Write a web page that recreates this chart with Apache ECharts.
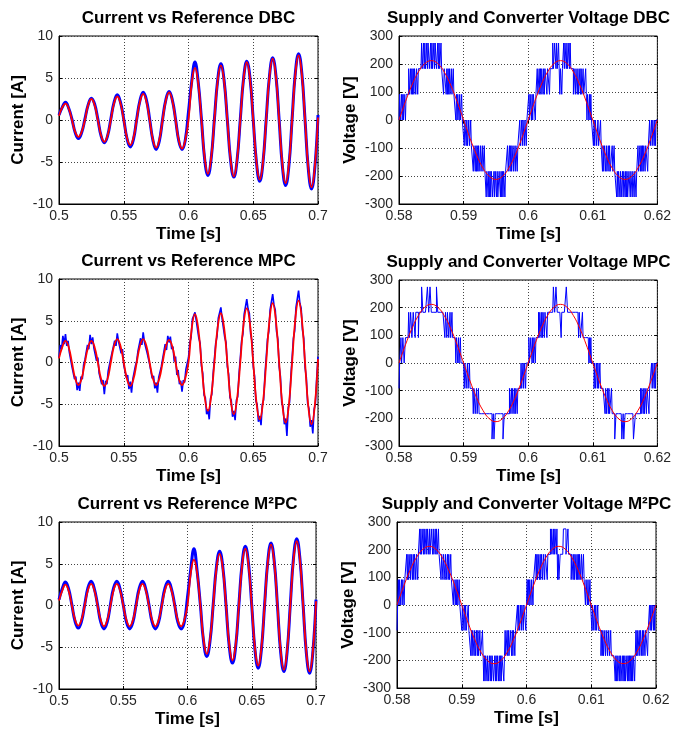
<!DOCTYPE html>
<html>
<head>
<meta charset="utf-8">
<script src="https://cdn.jsdelivr.net/npm/echarts@6/dist/echarts.min.js"></script>
<style>
  html, body { margin: 0; padding: 0; background: #fff; }
  #chart { width: 674px; height: 732px; }
</style>
</head>
<body>
<div id="chart"></div>
<script>
// ---- sampling grids -------------------------------------------------------
const currentStart = 0.5;      // s
const refStep = 0.0025;        // reference / smooth current samples, s
const fineStep = 0.001;        // MPC current samples, s
const voltageStart = 0.58;     // s
const supplyStep = 0.001;      // supply voltage samples, s
const switchStep = 0.0001;     // converter switching period, s

// ---- axis ticks -----------------------------------------------------------
const currentTimeTicks = [0.5, 0.55, 0.6, 0.65, 0.7];
const currentTicks = [-10, -5, 0, 5, 10];
const voltageTimeTicks = [0.58, 0.59, 0.6, 0.61, 0.62];
const voltageTicks = [-300, -200, -100, 0, 100, 200, 300];

// ---- currents [A] ---------------------------------------------------------
const dbcReference = [
  0.5, 1.5, 1.95, 1.38, 0, -1.41, -2.0, -1.41,
  0, 1.77, 2.5, 1.77, 0, -1.84, -2.6, -1.84,
  0, 1.98, 2.8, 1.98, 0, -2.12, -3.0, -2.12,
  0, 2.19, 3.1, 2.19, 0, -2.33, -3.3, -2.33,
  0, 2.33, 3.3, 2.33, 0, -2.4, -3.4, -2.4,
  0, 4.38, 6.2, 4.38, 0, -4.52, -6.4, -4.52,
  0, 4.6, 6.5, 4.6, 0, -4.74, -6.7, -4.74,
  0, 4.88, 6.9, 4.88, 0, -5.02, -7.1, -5.02,
  0, 5.16, 7.3, 5.16, 0, -5.3, -7.5, -5.3,
  0, 5.44, 7.7, 5.44, 0, -5.66, -8.0, -5.66,
  0.3
];
const dbcCurrent = [
  0.6, 1.5, 2.1, 1.4, 0.1, -1.5, -2.2, -1.5,
  0.1, 1.8, 2.6, 1.9, 0.1, -1.9, -2.7, -1.9,
  0.1, 2.1, 3.0, 2.1, 0.1, -2.2, -3.2, -2.3,
  0.1, 2.3, 3.3, 2.4, 0.1, -2.4, -3.5, -2.5,
  0.1, 2.4, 3.4, 2.4, 0.1, -2.5, -3.5, -2.4,
  1.0, 4.6, 6.9, 4.5, 0.1, -4.7, -6.6, -4.6,
  0.1, 4.7, 6.7, 4.7, 0.0, -4.8, -6.8, -4.8,
  0.1, 4.9, 7.0, 5.0, 0.0, -5.1, -7.3, -5.1,
  0.1, 5.2, 7.4, 5.3, 0.0, -5.5, -7.8, -5.5,
  0.1, 5.6, 7.9, 5.6, 0.0, -5.8, -8.2, -5.8,
  0.6
];
const mpcReference = [
  0.5, 1.84, 2.6, 1.84, 0, -1.91, -2.7, -1.91,
  0, 1.84, 2.6, 1.84, 0, -1.98, -2.8, -1.98,
  0, 1.98, 2.8, 1.98, 0, -1.98, -2.8, -1.98,
  0, 1.98, 2.8, 1.98, 0, -1.91, -2.7, -1.91,
  0, 1.91, 2.7, 1.91, 0, -1.91, -2.7, -1.91,
  0, 4.1, 5.8, 4.1, 0, -4.1, -5.8, -4.1,
  0, 4.17, 5.9, 4.17, 0, -4.38, -6.2, -4.38,
  0, 4.6, 6.5, 4.6, 0, -4.81, -6.8, -4.81,
  0, 5.02, 7.1, 5.02, 0, -5.09, -7.2, -5.09,
  0, 5.23, 7.4, 5.23, 0, -5.23, -7.4, -5.23,
  0.4
];
const mpcCurrent = [
  0.6, 2.1, 1.6, 3.2, 2.2, 3.4, 2.0, 2.6, 1.2, 1.3, -0.5, -0.4, -2.0, -1.7, -3.3, -2.4, -3.4, -1.7, -2.0, -0.3,
  0.3, 0.4, 2.1, 1.6, 3.3, 2.2, 3.0, 1.7, 1.9, 0.2, 0.6, -1.3, -1.1, -2.6, -2.1, -3.8, -2.2, -2.6, -1.0, -1.1,
  0.5, 1.2, 1.0, 2.6, 2.0, 3.5, 2.5, 2.7, 1.1, 1.6, -0.3, -0.2, -1.8, -1.5, -3.2, -2.3, -3.6, -2.0, -1.9, -0.4,
  0.2, 1.4, 1.2, 2.9, 2.1, 3.6, 2.4, 2.5, 1.2, 1.4, -0.2, -0.3, -1.9, -1.6, -3.1, -2.4, -3.6, -1.8, -2.0, -0.5,
  0.4, 0.3, 2.2, 1.5, 3.2, 2.4, 3.1, 1.6, 1.9, 0.1, 0.7, -1.5, -0.9, -2.6, -2.2, -3.5, -2.1, -2.4, -0.8, -1.0,
  0.6, 2.4, 3.0, 5.2, 5.1, 6.0, 5.0, 5.2, 2.9, 2.3, -0.4, -1.3, -3.9, -4.2, -6.2, -5.6, -6.8, -4.3, -3.8, -1.4,
  0.4, 2.3, 3.1, 5.3, 5.3, 6.6, 5.2, 5.3, 3.0, 2.4, -0.5, -1.4, -4.2, -4.5, -6.5, -5.8, -6.9, -4.5, -4.1, -1.4,
  0.5, 2.6, 3.4, 5.8, 5.7, 7.6, 6.4, 5.9, 3.4, 2.6, -0.5, -1.6, -4.6, -5.0, -7.1, -6.4, -7.5, -5.0, -4.5, -1.6,
  0.6, 2.8, 3.7, 6.3, 6.3, 8.2, 6.9, 6.3, 3.7, 2.8, -0.5, -1.7, -4.8, -5.3, -7.4, -6.7, -8.8, -5.4, -4.8, -1.7,
  0.5, 2.9, 3.8, 6.6, 6.6, 8.6, 7.1, 6.5, 3.9, 2.9, -0.6, -1.8, -4.9, -5.5, -7.7, -6.9, -8.5, -5.6, -4.9, -1.8,
  0.7
];
const m2pcReference = [
  0.6, 1.77, 2.5, 1.77, 0, -1.7, -2.4, -1.7,
  0, 1.84, 2.6, 1.84, 0, -1.77, -2.5, -1.77,
  0, 1.84, 2.6, 1.84, 0, -1.77, -2.5, -1.77,
  0, 1.84, 2.6, 1.84, 0, -1.77, -2.5, -1.77,
  0, 1.84, 2.6, 1.84, 0, -1.77, -2.5, -1.77,
  0, 3.89, 5.5, 3.89, 0, -4.1, -5.8, -4.1,
  0, 4.38, 6.2, 4.38, 0, -4.67, -6.6, -4.67,
  0, 4.81, 6.8, 4.81, 0, -5.09, -7.2, -5.09,
  0, 5.16, 7.3, 5.16, 0, -5.44, -7.7, -5.44,
  0, 5.44, 7.7, 5.44, 0, -5.59, -7.9, -5.59,
  0.5
];
const m2pcCurrent = [
  0.7, 2.0, 2.8, 2.0, 0.1, -1.9, -2.7, -1.9,
  0.1, 2.1, 2.9, 2.0, 0.1, -2.0, -2.8, -2.0,
  0.1, 2.1, 2.9, 2.0, 0.1, -2.0, -2.8, -2.0,
  0.1, 2.1, 2.9, 2.0, 0.1, -2.0, -2.8, -2.0,
  0.1, 2.1, 2.9, 2.0, 0.1, -2.0, -2.8, -2.0,
  1.0, 4.3, 6.8, 4.1, 0.1, -4.3, -6.1, -4.3,
  0.1, 4.6, 6.5, 4.6, 0.0, -4.9, -6.9, -4.9,
  0.1, 5.0, 7.1, 5.0, 0.0, -5.3, -7.5, -5.3,
  0.1, 5.3, 7.5, 5.3, 0.0, -5.6, -7.9, -5.6,
  0.1, 5.7, 8.0, 5.6, 0.0, -5.7, -8.1, -5.7,
  0.7
];

// ---- voltages [V] ---------------------------------------------------------
const supplyVoltage = [
  0, 65.5, 124.6, 171.5, 201.6, 212, 201.6, 171.5, 124.6, 65.5,
  0, -65.5, -124.6, -171.5, -201.6, -212, -201.6, -171.5, -124.6, -65.5,
  0, 65.5, 124.6, 171.5, 201.6, 212, 201.6, 171.5, 124.6, 65.5,
  0, -65.5, -124.6, -171.5, -201.6, -212, -201.6, -171.5, -124.6, -65.5,
  0
];
// converter output voltage for each level index -3..3
const converterLevels = [-275, -183.3, -91.7, 0, 91.7, 183.3, 275];

// converter level index at every switching period
const dbcLevelIdx = [
  0,1,0,0,1,0,1,0,1,1,0,1,1,1,1,2,1,1,2,1,
  2,1,2,1,2,2,1,2,2,1,2,2,2,2,2,3,2,2,3,2,
  3,2,2,3,2,3,3,2,2,3,2,3,2,2,3,2,3,3,2,2,
  3,2,3,2,2,3,2,2,2,1,2,2,2,1,2,1,2,1,2,1,
  1,2,1,1,2,1,1,1,0,1,0,1,1,0,1,0,0,1,0,0,
  0,-1,0,0,-1,0,-1,-1,0,-1,-1,0,-1,-1,-1,-2,-1,-1,-2,-1,
  -2,-1,-2,-1,-2,-2,-1,-2,-2,-1,-2,-2,-1,-2,-2,-3,-2,-2,-3,-2,
  -3,-2,-3,-2,-2,-3,-3,-2,-3,-2,-2,-3,-2,-3,-3,-2,-2,-3,-2,-3,
  -2,-3,-2,-2,-3,-2,-2,-2,-1,-2,-2,-1,-2,-1,-2,-1,-1,-2,-1,-1,
  -2,-1,-1,-2,-1,-1,-1,0,-1,-1,0,-1,0,0,-1,0,0,-1,0,0,
  0,1,0,1,1,0,1,0,1,1,1,0,1,1,2,1,1,2,1,2,
  1,2,2,1,2,1,2,2,2,1,2,2,2,1,2,2,2,2,3,2,
  2,3,3,2,3,2,2,3,2,1,2,2,1,2,2,3,2,3,3,2,
  3,2,2,3,2,3,2,2,2,2,1,2,2,1,2,2,1,2,1,1,
  2,1,2,1,1,2,1,1,1,2,1,0,1,1,0,1,0,1,0,0,
  0,-1,0,-1,0,0,-1,-1,0,-1,-1,-1,0,-1,-1,-2,-1,-2,-1,-1,
  -2,-1,-2,-2,-1,-2,-1,-2,-2,-2,-1,-2,-2,-1,-2,-2,-2,-3,-2,-3,
  -2,-2,-3,-2,-3,-3,-2,-3,-2,-2,-3,-2,-3,-2,-3,-3,-2,-2,-3,-2,
  -2,-3,-2,-2,-3,-2,-2,-3,-2,-2,-1,-2,-2,-1,-2,-1,-2,-1,-2,-1,
  -1,-2,-1,-1,-1,-2,-1,-1,0,-1,-1,0,-1,0,0,-1,0,-1,0,0,
  0
];
const mpcLevelIdx = [
  -1,
  0,0,1,0,0,1,1,0,0,1,1,1,1,
  1,2,1,1,2,2,1,1,2,2,2,1,2,2,2,2,1,2,2,2,
  2,3,3,2,2,2,2,2,2,2,3,3,2,2,3,3,2,2,2,2,2,2,2,2,3,3,2,2,2,2,2,2,2,
  2,2,2,2,1,2,2,1,2,2,1,1,2,1,1,2,1,1,1,
  1,1,0,1,1,0,1,0,0,1,0,0,0,0,
  0,-1,0,0,-1,-1,0,-1,-1,0,-1,-1,-1,-1,
  -1,-2,-1,-1,-2,-2,-1,-2,-2,-1,-2,-2,-2,-2,-2,-2,-2,-2,-2,-2,
  -2,-2,-2,-2,-2,-2,-2,-2,-2,-2,-3,-3,-2,-3,-3,-2,-2,-2,-2,-2,-2,-2,-2,-2,-2,-2,-2,-3,-3,-2,-2,-2,-2,
  -2,-2,-2,-2,-1,-2,-2,-1,-2,-1,-1,-2,-1,-2,-1,-1,-2,-1,-1,
  -1,-1,-1,0,-1,-1,0,-1,0,0,-1,0,0,0,
  0,1,0,0,1,1,0,1,0,1,1,0,1,1,
  1,1,2,1,2,2,1,2,1,2,2,1,2,2,2,1,2,2,2,2,2,2,2,
  2,2,3,3,2,2,3,3,2,2,2,2,2,2,1,2,2,2,2,2,2,2,3,3,2,2,2,2,2,2,2,2,
  2,2,2,2,2,2,2,2,2,1,2,2,1,1,1,2,1,1,1,1,1,
  1,1,1,1,0,1,0,1,0,0,
  0,0,-1,0,-1,-1,0,-1,0,-1,-1,0,-1,-1,-1,-1,-1,-1,
  -1,-2,-1,-2,-2,-1,-2,-1,-2,-2,-2,-1,-2,-2,-2,-2,
  -3,-3,-2,-2,-2,-2,-2,-2,-2,-2,-2,-3,-3,-2,-3,-3,-2,-2,-2,-2,-2,-2,-2,-2,-2,-2,-2,-2,-2,-3,-3,-3,-2,-2,-2,-2,-2,-2,-2,-2,
  -1,-2,-1,-1,-2,-1,-2,-1,-1,-2,-1,-1,-1,-2,-1,-1,
  -1,0,-1,0,0,-1,0,-1,0,0,0
];
const m2pcLevelIdx = [
  -1,0,1,0,1,0,0,1,0,1,1,0,1,1,1,2,1,2,1,1,
  2,1,2,2,1,2,1,2,2,1,2,2,1,2,2,3,2,3,2,2,
  3,2,3,2,2,3,2,3,3,2,3,2,2,3,3,2,3,2,2,3,
  2,3,2,2,3,2,2,2,1,2,2,1,2,2,1,2,1,1,2,1,
  2,1,1,2,1,1,1,0,1,1,0,1,0,1,0,0,1,0,0,0,
  -1,0,-1,-1,0,-1,0,-1,-1,-1,0,-1,-1,-1,-2,-1,-2,-1,-1,-2,
  -1,-2,-2,-1,-2,-1,-2,-2,-1,-2,-2,-2,-1,-2,-3,-2,-3,-2,-2,-3,
  -2,-3,-3,-2,-3,-2,-3,-2,-2,-3,-3,-2,-3,-2,-3,-2,-2,-3,-2,-3,
  -2,-3,-2,-2,-2,-3,-2,-1,-2,-2,-1,-2,-1,-2,-2,-1,-1,-2,-1,-2,
  -1,-1,-2,-1,-1,-1,0,-1,0,-1,-1,0,-1,0,0,-1,0,0,0,-1,
  0,1,0,1,0,1,1,0,1,1,0,1,1,1,2,1,2,1,2,2,
  1,2,1,2,2,1,2,2,1,2,2,2,1,2,2,2,2,3,2,3,
  3,2,3,2,3,3,2,3,1,2,1,1,2,2,2,2,2,3,3,3,
  3,2,2,2,3,2,2,2,2,1,2,2,1,2,1,2,2,1,2,1,
  2,1,2,1,1,2,1,1,2,1,1,0,1,1,0,1,0,0,1,0,
  0,-1,0,-1,-1,0,-1,0,-1,-1,0,-1,-1,-1,-1,-2,-1,-2,-1,-2,
  -2,-1,-2,-2,-1,-2,-2,-1,-2,-2,-1,-2,-2,-2,-2,-2,-2,-3,-2,-3,
  -2,-3,-3,-2,-3,-2,-3,-3,-2,-3,-2,-3,-2,-3,-3,-2,-3,-2,-3,-2,
  -3,-2,-3,-2,-3,-2,-2,-3,-2,-1,-2,-1,-2,-2,-1,-2,-1,-1,-2,-1,
  -2,-1,-1,-2,-1,-1,-1,-2,-1,-1,0,-1,0,-1,0,0,-1,0,-1,0,
  0
];

// ---- helpers --------------------------------------------------------------
function timed(start, step, values) {
  return values.map((v, i) => [+(start + i * step).toFixed(5), v]);
}
function levelsToVolts(idx) {
  return idx.map(k => converterLevels[k + 3]);
}
const fmt = v => String(+(+v).toFixed(4));

const BLUE = '#0000ff';
const RED = '#ff0000';
const FONT = '"Liberation Sans", Arial, Helvetica, sans-serif';
const TICK_COLOR = '#262626';

const panels = [
  { rect: [59, 36, 259, 168], kind: 'current', title: 'Current vs Reference DBC',
    ref: dbcReference, meas: dbcCurrent, measStep: refStep, measSmooth: true },
  { rect: [399, 36, 259, 168], kind: 'voltage', title: 'Supply and Converter Voltage DBC',
    levels: dbcLevelIdx },
  { rect: [59, 279, 259, 167], kind: 'current', title: 'Current vs Reference MPC',
    ref: mpcReference, meas: mpcCurrent, measStep: fineStep, measSmooth: false },
  { rect: [399, 280, 259, 166], kind: 'voltage', title: 'Supply and Converter Voltage MPC',
    levels: mpcLevelIdx },
  { rect: [59, 522, 257, 167], kind: 'current', title: 'Current vs Reference M²PC',
    ref: m2pcReference, meas: m2pcCurrent, measStep: refStep, measSmooth: true },
  { rect: [397, 522, 259, 166], kind: 'voltage', title: 'Supply and Converter Voltage M²PC',
    levels: m2pcLevelIdx }
];

const grid = [], xAxis = [], yAxis = [], series = [], graphic = [];

panels.forEach((p, i) => {
  const [left, top, width, height] = p.rect;
  const isCurrent = p.kind === 'current';
  const xt = isCurrent ? currentTimeTicks : voltageTimeTicks;
  const yt = isCurrent ? currentTicks : voltageTicks;

  grid.push({ left, top, width, height, show: true, borderColor: '#000', borderWidth: 1,
              backgroundColor: '#fff', containLabel: false });

  const splitDots = { show: true, lineStyle: { color: '#444', width: 1, type: [1, 2] } };
  const tickIn = { show: true, inside: true, length: 3, lineStyle: { color: '#000' } };

  xAxis.push({
    type: 'value', gridIndex: i, position: 'bottom',
    min: xt[0], max: xt[xt.length - 1], interval: +(xt[1] - xt[0]).toFixed(4),
    axisLine: { show: true, onZero: false, lineStyle: { color: '#000' } },
    axisTick: tickIn,
    axisLabel: { margin: 5, color: TICK_COLOR, fontSize: 14, fontFamily: FONT, formatter: fmt },
    splitLine: splitDots
  });
  xAxis.push({
    type: 'value', gridIndex: i, position: 'top',
    min: xt[0], max: xt[xt.length - 1], interval: +(xt[1] - xt[0]).toFixed(4),
    axisLine: { show: false }, axisTick: tickIn, axisLabel: { show: false }, splitLine: { show: false }
  });
  yAxis.push({
    type: 'value', gridIndex: i, position: 'left',
    min: yt[0], max: yt[yt.length - 1], interval: yt[1] - yt[0],
    axisLine: { show: true, onZero: false, lineStyle: { color: '#000' } },
    axisTick: tickIn,
    axisLabel: { margin: 6, color: TICK_COLOR, fontSize: 14, fontFamily: FONT, formatter: fmt },
    splitLine: splitDots
  });
  yAxis.push({
    type: 'value', gridIndex: i, position: 'right',
    min: yt[0], max: yt[yt.length - 1], interval: yt[1] - yt[0],
    axisLine: { show: false }, axisTick: tickIn, axisLabel: { show: false }, splitLine: { show: false }
  });

  const xi = 2 * i, yi = 2 * i;
  if (isCurrent) {
    // measured current underneath, reference on top
    series.push({
      type: 'line', xAxisIndex: xi, yAxisIndex: yi, showSymbol: false, silent: true,
      smooth: p.measSmooth ? 0.45 : false,
      data: timed(currentStart, p.measStep, p.meas),
      lineStyle: { color: BLUE, width: p.measSmooth ? 3 : 1.6 }, z: 2
    });
    series.push({
      type: 'line', xAxisIndex: xi, yAxisIndex: yi, showSymbol: false, silent: true,
      smooth: 0.45,
      data: timed(currentStart, refStep, p.ref),
      lineStyle: { color: RED, width: 1.8 }, z: 3
    });
  } else {
    // converter steps underneath, supply sine on top
    series.push({
      type: 'line', xAxisIndex: xi, yAxisIndex: yi, showSymbol: false, silent: true,
      step: 'end',
      data: timed(voltageStart, switchStep, levelsToVolts(p.levels)),
      lineStyle: { color: BLUE, width: 1 }, z: 2
    });
    series.push({
      type: 'line', xAxisIndex: xi, yAxisIndex: yi, showSymbol: false, silent: true,
      smooth: 0.45,
      data: timed(voltageStart, supplyStep, supplyVoltage),
      lineStyle: { color: RED, width: 1 }, z: 3
    });
  }

  const cx = left + width / 2;
  graphic.push({
    type: 'text', x: cx, y: top - 18,
    style: { text: p.title, font: 'bold 17px ' + FONT, fill: '#000',
             align: 'center', verticalAlign: 'middle', textAlign: 'center', textVerticalAlign: 'middle' }
  });
  graphic.push({
    type: 'text', x: cx, y: top + height + 30,
    style: { text: 'Time [s]', font: 'bold 17px ' + FONT, fill: '#000',
             align: 'center', verticalAlign: 'middle', textAlign: 'center', textVerticalAlign: 'middle' }
  });
  graphic.push({
    type: 'text', x: left - (isCurrent ? 41 : 49), y: top + height / 2, rotation: Math.PI / 2,
    style: { text: isCurrent ? 'Current [A]' : 'Voltage [V]', font: 'bold 17px ' + FONT, fill: '#000',
             align: 'center', verticalAlign: 'middle', textAlign: 'center', textVerticalAlign: 'middle' }
  });
});

const chart = echarts.init(document.getElementById('chart'), null, { renderer: 'canvas' });
chart.setOption({
  animation: false,
  backgroundColor: '#fff',
  grid, xAxis, yAxis, series, graphic
});
</script>
</body>
</html>
